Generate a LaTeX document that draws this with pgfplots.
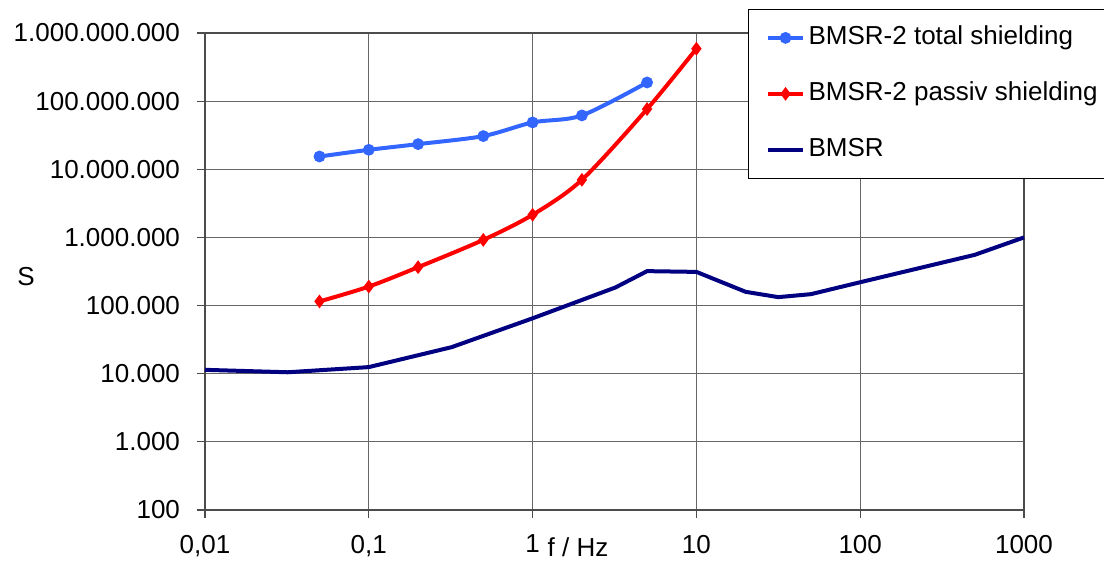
\documentclass[border=0pt]{standalone}
\usepackage{fontspec}
\setmainfont{Liberation Sans}
\usepackage{pgfplots}
\pgfplotsset{compat=1.18}
\definecolor{tblue}{RGB}{51,102,255}
\definecolor{tnavy}{RGB}{0,0,128}
\definecolor{tred}{RGB}{255,0,0}
\begin{document}
\fontsize{13}{15.6}\selectfont
\begin{tikzpicture}
\begin{axis}[
  xmode=log, ymode=log,
  scale only axis, width=409.5pt, height=238.5pt,
  xmin=0.01, xmax=1000, ymin=100, ymax=1e9,
  xtick={0.01,0.1,1,10,100,1000},
  xticklabels={{0,01},{0,1},1,10,100,1000},
  ytick={1e2,1e3,1e4,1e5,1e6,1e7,1e8,1e9},
  yticklabels={100,1.000,10.000,100.000,1.000.000,10.000.000,100.000.000,1.000.000.000},
  xticklabel style={yshift=-4pt},
  yticklabel style={xshift=-4pt},
  xminorticks=false, yminorticks=false,
  grid=major, major grid style={black!60, line width=0.5pt},
  tick align=outside, major tick length=4pt,
  tick style={black!70, line width=0.6pt},
  axis line style={black!70, line width=0.6pt},
  tick pos=left,
  clip=false,
  legend style={at={(0.663,1.050)}, anchor=north west, draw=black, line width=0.5pt,
    row sep=11.75pt, inner xsep=9pt, inner ysep=6pt,
    nodes={inner sep=2pt, text height=9.5pt, text depth=2.75pt}},
  legend cell align=left,
]
\addplot[tblue, line width=2pt, smooth, mark=*, mark size=1.9pt, mark options={solid}] coordinates {
 (0.05,1.54e7) (0.1,1.93e7) (0.2,2.34e7) (0.5,3.07e7) (1,4.87e7) (2,6.17e7) (5,1.88e8)};
\addlegendentry{BMSR-2 total shielding}
\addplot[tred, line width=2pt, smooth, mark=diamond*, mark size=1.8pt, mark options={solid}] coordinates {
 (0.05,1.15e5) (0.1,1.90e5) (0.2,3.66e5) (0.5,9.2e5) (1,2.15e6) (2,7.0e6) (5,7.66e7) (10,5.88e8)};
\addlegendentry{BMSR-2 passiv shielding}
\addplot[tnavy, line width=2pt, mark=none] coordinates {
 (0.01,1.14e4) (0.032,1.05e4) (0.1,1.25e4) (0.32,2.45e4) (1,6.5e4) (3.2,1.84e5) (5,3.2e5)
 (10,3.12e5) (20,1.59e5) (31.6,1.33e5) (50,1.47e5) (100,2.2e5) (500,5.55e5) (1000,1e6)};
\addlegendentry{BMSR}
\coordinate (sw) at (rel axis cs:0,0);
\node at (rel axis cs:0,0.4885) [xshift=-89.5pt] {S};
\node at (rel axis cs:0.4554,0) [anchor=base, yshift=-23.5pt] {f / Hz};
\end{axis}
\pgfresetboundingbox
\path (sw) ++(-102.5pt,-26pt) rectangle ++(552pt,281pt);
\end{tikzpicture}
\end{document}
